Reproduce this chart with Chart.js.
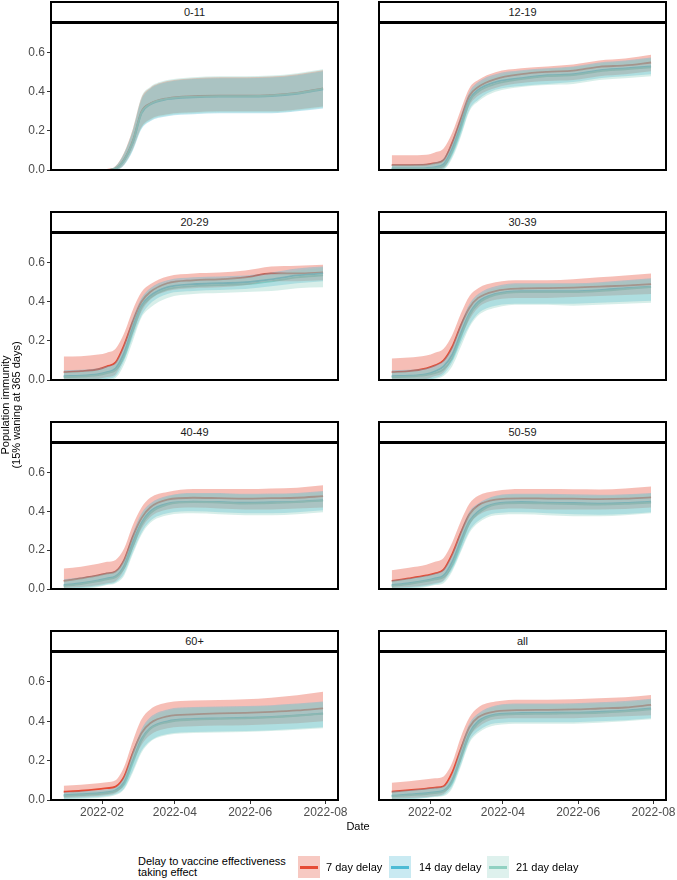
<!DOCTYPE html>
<html><head><meta charset="utf-8">
<script src="https://cdn.jsdelivr.net/npm/chart.js@4.4.1/dist/chart.umd.min.js"></script>
<style>
html,body{margin:0;padding:0;background:#fff;}
body{width:677px;height:880px;position:relative;overflow:hidden;font-family:"Liberation Sans",Arial,sans-serif;}
canvas{position:absolute;}
.strip{position:absolute;box-sizing:border-box;border:2px solid #000;background:#fff;font-size:11px;color:#1a1a1a;display:flex;align-items:center;justify-content:center;z-index:2;}
.ytitle{position:absolute;left:-89px;top:394px;width:200px;height:22px;line-height:11px;font-size:11px;text-align:center;transform:rotate(-90deg);color:#000;}
.xtitle{position:absolute;left:308px;top:819px;width:100px;text-align:center;font-size:11px;line-height:14px;color:#000;}
.lgtitle{position:absolute;left:138px;top:856px;font-size:11px;line-height:10.6px;color:#000;white-space:nowrap;}
.key{position:absolute;top:856px;width:22px;height:22px;}
.key span{position:absolute;left:2px;right:2px;top:10px;height:2.5px;}
.lab{position:absolute;top:860px;font-size:11px;line-height:14px;color:#000;white-space:nowrap;}
</style></head><body>
<div id="root"></div>
<script>
// ---------- data ----------
const panelNames = ['0-11','12-19','20-29','30-39','40-49','50-59','60+','all'];
const days = [0,14,28,35,42,49,56,63,70,84,105,126,147,168,189,210]; // days since 2022-01-01
const xTickDays = [31,90,151,212];
const xTickLabels = ['2022-02','2022-04','2022-06','2022-08'];
const yTicks = [0,0.2,0.4,0.6];
const seriesNames = ['7 day delay','14 day delay','21 day delay'];
const seriesColors = ['#E64B35','#4DBBD5','#91D1C2'];

const d7_mid = [
 [null,null,null,0,0.008,0.055,0.15,0.30,0.34,0.367,0.378,0.38,0.38,0.383,0.395,0.418],
 [0.025,0.025,0.027,0.035,0.05,0.14,0.26,0.38,0.425,0.465,0.49,0.502,0.508,0.528,0.535,0.55],
 [0.04,0.045,0.055,0.07,0.09,0.18,0.30,0.40,0.45,0.495,0.51,0.515,0.525,0.545,0.545,0.55],
 [0.04,0.045,0.06,0.075,0.10,0.17,0.28,0.37,0.42,0.455,0.468,0.47,0.473,0.478,0.483,0.49],
 [0.042,0.055,0.07,0.08,0.09,0.15,0.27,0.365,0.42,0.46,0.47,0.468,0.466,0.468,0.47,0.478],
 [0.042,0.055,0.07,0.08,0.10,0.18,0.29,0.385,0.43,0.46,0.467,0.466,0.465,0.463,0.465,0.472],
 [0.042,0.047,0.055,0.06,0.068,0.12,0.24,0.34,0.39,0.425,0.435,0.44,0.443,0.448,0.455,0.466],
 [0.042,0.05,0.058,0.063,0.07,0.14,0.26,0.37,0.42,0.45,0.457,0.458,0.46,0.465,0.47,0.483]
];
const d7_hi = [
 [null,null,null,0,0.02,0.09,0.21,0.37,0.42,0.455,0.47,0.475,0.475,0.478,0.49,0.51],
 [0.075,0.075,0.078,0.09,0.11,0.19,0.31,0.42,0.46,0.50,0.52,0.53,0.54,0.56,0.57,0.59],
 [0.12,0.122,0.13,0.14,0.16,0.24,0.36,0.45,0.49,0.53,0.545,0.55,0.56,0.58,0.585,0.59],
 [0.11,0.115,0.125,0.14,0.16,0.23,0.34,0.43,0.47,0.50,0.51,0.51,0.515,0.525,0.535,0.545],
 [0.105,0.115,0.13,0.14,0.15,0.21,0.33,0.42,0.47,0.50,0.515,0.515,0.515,0.518,0.522,0.535],
 [0.097,0.11,0.125,0.14,0.16,0.24,0.35,0.44,0.48,0.505,0.515,0.515,0.514,0.513,0.518,0.528],
 [0.073,0.078,0.085,0.09,0.10,0.17,0.30,0.41,0.46,0.495,0.505,0.508,0.512,0.52,0.532,0.55],
 [0.088,0.095,0.105,0.11,0.12,0.19,0.32,0.42,0.47,0.50,0.51,0.51,0.512,0.517,0.522,0.534]
];
const d7_lo = [
 [null,null,null,0,0,0.03,0.11,0.22,0.26,0.285,0.295,0.30,0.30,0.30,0.31,0.325],
 [0,0,0,0,0.01,0.09,0.21,0.33,0.38,0.42,0.445,0.455,0.46,0.48,0.49,0.505],
 [0,0,0.005,0.015,0.03,0.12,0.24,0.35,0.41,0.455,0.47,0.475,0.485,0.505,0.505,0.51],
 [0,0,0.005,0.02,0.04,0.11,0.22,0.31,0.37,0.41,0.42,0.42,0.425,0.43,0.435,0.44],
 [0.005,0.01,0.02,0.03,0.04,0.10,0.21,0.31,0.37,0.41,0.42,0.415,0.41,0.41,0.415,0.42],
 [0.005,0.01,0.02,0.03,0.045,0.12,0.23,0.33,0.38,0.41,0.415,0.41,0.41,0.41,0.412,0.42],
 [0.01,0.015,0.02,0.025,0.035,0.08,0.19,0.28,0.33,0.365,0.375,0.378,0.38,0.385,0.39,0.40],
 [0.005,0.01,0.015,0.02,0.03,0.09,0.20,0.32,0.37,0.41,0.415,0.415,0.415,0.42,0.425,0.43]
];
const d14_mid = [
 [null,null,null,0,0.006,0.05,0.14,0.29,0.335,0.362,0.372,0.375,0.375,0.378,0.39,0.413],
 [0.008,0.008,0.01,0.015,0.03,0.11,0.23,0.36,0.41,0.45,0.47,0.485,0.49,0.51,0.52,0.53],
 [0.02,0.022,0.03,0.04,0.06,0.14,0.27,0.38,0.43,0.475,0.49,0.495,0.50,0.515,0.535,0.545],
 [0.02,0.022,0.03,0.045,0.07,0.13,0.24,0.34,0.40,0.44,0.455,0.455,0.455,0.46,0.47,0.478],
 [0.02,0.03,0.045,0.055,0.065,0.12,0.24,0.34,0.40,0.44,0.45,0.448,0.445,0.447,0.45,0.458],
 [0.02,0.03,0.045,0.055,0.07,0.14,0.25,0.35,0.40,0.44,0.448,0.445,0.443,0.44,0.443,0.45],
 [0.025,0.03,0.035,0.04,0.05,0.09,0.20,0.31,0.365,0.40,0.412,0.415,0.418,0.422,0.43,0.44],
 [0.022,0.028,0.035,0.04,0.048,0.10,0.22,0.34,0.40,0.435,0.442,0.443,0.444,0.448,0.454,0.465]
];
const d14_hi = [
 [null,null,null,0,0.018,0.085,0.20,0.36,0.415,0.45,0.465,0.47,0.47,0.473,0.485,0.505],
 [0.03,0.03,0.032,0.04,0.06,0.15,0.28,0.40,0.45,0.49,0.51,0.52,0.53,0.55,0.56,0.575],
 [0.05,0.052,0.06,0.07,0.09,0.18,0.32,0.42,0.47,0.51,0.525,0.53,0.535,0.55,0.57,0.58],
 [0.05,0.052,0.06,0.075,0.10,0.17,0.29,0.39,0.44,0.48,0.495,0.495,0.495,0.50,0.51,0.52],
 [0.05,0.06,0.075,0.085,0.095,0.16,0.29,0.39,0.44,0.48,0.495,0.495,0.49,0.492,0.495,0.505],
 [0.045,0.055,0.07,0.08,0.10,0.18,0.30,0.40,0.44,0.48,0.49,0.49,0.488,0.485,0.488,0.495],
 [0.04,0.045,0.05,0.055,0.065,0.12,0.25,0.36,0.42,0.46,0.472,0.475,0.478,0.482,0.49,0.50],
 [0.045,0.05,0.058,0.063,0.07,0.13,0.27,0.39,0.44,0.48,0.49,0.49,0.492,0.497,0.503,0.515]
];
const d14_lo = [
 [null,null,null,0,0,0.025,0.10,0.21,0.25,0.275,0.285,0.29,0.29,0.29,0.30,0.315],
 [0,0,0,0,0.005,0.07,0.18,0.31,0.36,0.41,0.43,0.44,0.45,0.47,0.48,0.49],
 [0,0,0,0.005,0.02,0.10,0.22,0.33,0.39,0.44,0.455,0.46,0.465,0.48,0.495,0.505],
 [0,0,0,0.01,0.03,0.09,0.19,0.28,0.34,0.38,0.39,0.39,0.39,0.395,0.40,0.405],
 [0,0.005,0.015,0.025,0.035,0.08,0.19,0.29,0.35,0.39,0.40,0.395,0.39,0.39,0.395,0.405],
 [0,0.005,0.015,0.025,0.04,0.10,0.20,0.30,0.35,0.39,0.395,0.39,0.385,0.383,0.386,0.395],
 [0.005,0.01,0.015,0.02,0.03,0.06,0.15,0.25,0.30,0.335,0.345,0.348,0.35,0.355,0.362,0.37],
 [0,0.005,0.012,0.018,0.025,0.07,0.18,0.30,0.35,0.39,0.395,0.395,0.395,0.40,0.405,0.415]
];
const d21_mid = [
 [null,null,null,0,0.007,0.052,0.145,0.295,0.338,0.365,0.375,0.378,0.378,0.381,0.393,0.416],
 [0.005,0.005,0.006,0.01,0.02,0.09,0.21,0.35,0.40,0.44,0.465,0.48,0.485,0.505,0.515,0.525],
 [0.015,0.017,0.025,0.035,0.05,0.12,0.25,0.37,0.42,0.465,0.48,0.485,0.49,0.505,0.525,0.535],
 [0.015,0.017,0.025,0.035,0.055,0.11,0.22,0.33,0.39,0.435,0.45,0.45,0.45,0.455,0.465,0.475],
 [0.015,0.025,0.04,0.05,0.06,0.11,0.22,0.33,0.39,0.435,0.447,0.445,0.44,0.442,0.447,0.455],
 [0.015,0.025,0.04,0.05,0.06,0.12,0.23,0.34,0.39,0.435,0.442,0.44,0.437,0.435,0.438,0.445],
 [0.02,0.025,0.03,0.035,0.045,0.08,0.19,0.30,0.36,0.395,0.408,0.412,0.415,0.42,0.428,0.438],
 [0.018,0.024,0.03,0.035,0.043,0.09,0.21,0.33,0.39,0.43,0.437,0.438,0.44,0.443,0.45,0.46]
];
const d21_hi = [
 [null,null,null,0,0.02,0.09,0.21,0.375,0.425,0.46,0.475,0.48,0.48,0.483,0.495,0.515],
 [0.025,0.025,0.027,0.035,0.05,0.13,0.26,0.39,0.44,0.48,0.505,0.515,0.525,0.545,0.555,0.57],
 [0.04,0.042,0.05,0.06,0.08,0.16,0.30,0.41,0.46,0.50,0.515,0.52,0.525,0.54,0.56,0.575],
 [0.04,0.042,0.05,0.06,0.085,0.15,0.27,0.38,0.43,0.47,0.49,0.49,0.49,0.495,0.505,0.515],
 [0.045,0.055,0.07,0.08,0.09,0.15,0.27,0.38,0.43,0.475,0.49,0.49,0.485,0.487,0.49,0.50],
 [0.04,0.05,0.065,0.075,0.09,0.16,0.28,0.39,0.43,0.475,0.485,0.485,0.482,0.48,0.483,0.49],
 [0.035,0.04,0.045,0.05,0.06,0.11,0.24,0.35,0.41,0.455,0.468,0.47,0.473,0.478,0.486,0.497],
 [0.04,0.045,0.052,0.057,0.065,0.12,0.26,0.38,0.43,0.475,0.485,0.485,0.487,0.49,0.497,0.51]
];
const d21_lo = [
 [null,null,null,0,0,0.028,0.105,0.215,0.255,0.28,0.29,0.295,0.295,0.295,0.305,0.32],
 [0,0,0,0,0.003,0.06,0.17,0.30,0.35,0.40,0.425,0.435,0.44,0.46,0.47,0.48],
 [0,0,0,0,0.01,0.08,0.20,0.32,0.37,0.42,0.44,0.445,0.45,0.455,0.47,0.475],
 [0,0,0,0.005,0.02,0.07,0.17,0.27,0.33,0.37,0.385,0.385,0.38,0.385,0.39,0.395],
 [0,0,0.01,0.02,0.03,0.07,0.18,0.28,0.34,0.38,0.39,0.385,0.38,0.38,0.385,0.395],
 [0,0,0.01,0.02,0.03,0.09,0.19,0.29,0.34,0.38,0.385,0.38,0.375,0.375,0.38,0.39],
 [0,0.005,0.01,0.015,0.025,0.055,0.14,0.24,0.295,0.33,0.34,0.343,0.345,0.35,0.357,0.365],
 [0,0.003,0.01,0.015,0.02,0.06,0.17,0.29,0.34,0.38,0.388,0.388,0.388,0.392,0.40,0.41]
];

// ---------- layout ----------
const colLeft = [51, 379];
const plotW = 287;
const rowTop = [23, 233, 443, 652];
const rowBottom = [170, 380, 589, 800];
const X_MIN = -10.3, X_MAX = 222.1, Y_MAX = 0.752;
const RIBBON_ALPHA = 0.36;
const KEY_ALPHA = 0.3;

Chart.defaults.font.family = '"Liberation Sans", Arial, sans-serif';
Chart.defaults.animation = false;

function rgba(hex, a){
  const n = parseInt(hex.slice(1),16);
  return `rgba(${(n>>16)&255},${(n>>8)&255},${n&255},${a})`;
}

const framePlugin = {
  id:'frame',
  afterDatasetsDraw(chart){
    const {ctx, chartArea:a} = chart;
    ctx.save();
    ctx.strokeStyle = '#000';
    ctx.lineWidth = 2;
    ctx.strokeRect(a.left, a.top, a.right-a.left, a.bottom-a.top);
    ctx.restore();
  }
};

const root = document.getElementById('root');
const mids = [d7_mid, d14_mid, d21_mid];
const his = [d7_hi, d14_hi, d21_hi];
const los = [d7_lo, d14_lo, d21_lo];

function pts(arr){ return days.map((d,i)=>({x:d, y:arr[i]})); }

for (let p = 0; p < panelNames.length; p++){
  const col = p % 2, row = Math.floor(p/2);
  const L = colLeft[col], R = L + plotW, T = rowTop[row], B = rowBottom[row];
  const isBottom = row === 3, isLeft = col === 0;
  const yW = isLeft ? 51 : 0;
  const padTop = 2, padBot = isBottom ? 0 : 10, xH = isBottom ? 28 : 0;
  const padL = isLeft ? 0 : 2, padR = isBottom ? 12 : 2;
  const cLeft = L - yW - padL;
  const cTop = T - padTop;
  const cW = R + padR - cLeft;
  const cH = (B - T) + padTop + padBot + xH;

  // strip
  const strip = document.createElement('div');
  strip.className = 'strip';
  strip.style.left = (L - 1) + 'px';
  strip.style.top = (T - 22) + 'px';
  strip.style.width = (plotW + 2) + 'px';
  strip.style.height = '22px';
  strip.textContent = panelNames[p];
  root.appendChild(strip);

  const cv = document.createElement('canvas');
  cv.width = cW; cv.height = cH;
  cv.style.left = cLeft + 'px'; cv.style.top = cTop + 'px';
  cv.style.width = cW + 'px'; cv.style.height = cH + 'px';
  root.appendChild(cv);

  const datasets = [];
  for (let s = 0; s < 3; s++){
    datasets.push({
      label: seriesNames[s], data: pts(mids[s][p]),
      borderColor: seriesColors[s], borderWidth: 1.8, pointRadius: 0,
      fill: false, cubicInterpolationMode: 'monotone', order: 60 - 10*s
    });
  }
  for (let s = 0; s < 3; s++){
    datasets.push({
      label: seriesNames[s] + ' lo', data: pts(los[s][p]),
      borderColor: 'rgba(0,0,0,0)', borderWidth: 1, pointRadius: 0,
      fill: false, cubicInterpolationMode: 'monotone', order: 30 - 10*s
    });
    datasets.push({
      label: seriesNames[s] + ' hi', data: pts(his[s][p]),
      borderColor: 'rgba(0,0,0,0)', borderWidth: 1, pointRadius: 0,
      backgroundColor: rgba(seriesColors[s], RIBBON_ALPHA),
      fill: '-1', cubicInterpolationMode: 'monotone', order: 30 - 10*s
    });
  }

  new Chart(cv, {
    type: 'line',
    data: { datasets },
    plugins: [framePlugin],
    options: {
      responsive: false, devicePixelRatio: 1, animation: false,
      events: [],
      layout: { padding: { left: padL, right: padR, top: padTop, bottom: padBot } },
      plugins: { legend: { display: false }, tooltip: { enabled: false }, title: { display: false } },
      scales: {
        x: {
          type: 'linear', min: X_MIN, max: X_MAX, display: isBottom,
          afterBuildTicks: s => { s.ticks = xTickDays.map(v => ({ value: v })); },
          afterFit: s => { s.height = xH; s.paddingLeft = 0; s.paddingRight = 0; },
          ticks: {
            color: '#4D4D4D', font: { size: 12 }, padding: 1, maxRotation: 0, autoSkip: false,
            callback: v => xTickLabels[xTickDays.indexOf(v)]
          },
          grid: { drawOnChartArea: false, tickLength: 4, color: '#333', lineWidth: 1 },
          border: { display: false }
        },
        y: {
          type: 'linear', min: 0, max: Y_MAX, display: isLeft,
          afterBuildTicks: s => { s.ticks = yTicks.map(v => ({ value: v })); },
          afterFit: s => { s.width = yW; s.paddingTop = 0; s.paddingBottom = 0; },
          ticks: { color: '#4D4D4D', font: { size: 12 }, padding: 2, callback: v => Number(v).toFixed(1) },
          grid: { drawOnChartArea: false, tickLength: 4, color: '#333', lineWidth: 1 },
          border: { display: false }
        }
      }
    }
  });
}

// titles
const yt = document.createElement('div');
yt.className = 'ytitle';
yt.innerHTML = 'Population immunity<br>(15% waning at 365 days)';
root.appendChild(yt);
const xt = document.createElement('div');
xt.className = 'xtitle';
xt.textContent = 'Date';
root.appendChild(xt);

// legend
const lt = document.createElement('div');
lt.className = 'lgtitle';
lt.innerHTML = 'Delay to vaccine effectiveness<br>taking effect';
root.appendChild(lt);
const keyLeft = [298, 389, 487];
const labLeft = [326, 419, 516];
for (let s = 0; s < 3; s++){
  const k = document.createElement('div');
  k.className = 'key';
  k.style.left = keyLeft[s] + 'px';
  k.style.background = rgba(seriesColors[s], KEY_ALPHA);
  const ln = document.createElement('span');
  ln.style.background = seriesColors[s];
  k.appendChild(ln);
  root.appendChild(k);
  const lb = document.createElement('div');
  lb.className = 'lab';
  lb.style.left = labLeft[s] + 'px';
  lb.textContent = seriesNames[s];
  root.appendChild(lb);
}
</script>
</body></html>
